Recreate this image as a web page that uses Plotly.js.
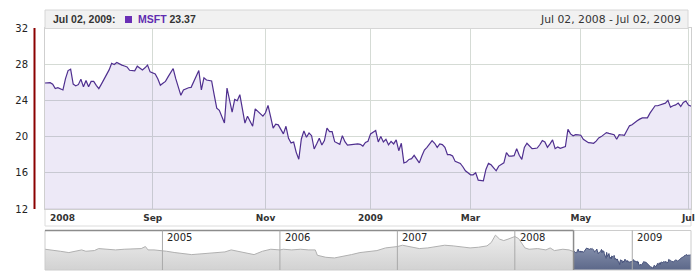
<!DOCTYPE html>
<html><head><meta charset="utf-8">
<script src="https://cdn.plot.ly/plotly-3.0.1.min.js"></script>
<style>html,body{margin:0;padding:0;background:#fff;}#chart{width:700px;height:280px;}</style>
</head><body><div id="chart"></div>
<script>
// MSFT daily close, one value per trading day, Jul 02 2008 (day 0) .. Jul 02 2009 (day 252)
const msftClose = [
25.92,25.95,25.96,25.78,25.3,25.4,25.26,25.15,26.4,27.3,
27.45,25.8,25.6,25.74,26.33,25.5,26.2,25.5,26.1,26.1,
25.67,25.3,25.8,26.3,26.8,27.37,28.1,27.96,28.18,28.0,
27.9,27.8,27.7,27.33,27.3,27.26,27.78,27.52,27.37,27.6,
27.9,27.15,27.0,26.93,26.4,25.67,25.89,26.1,26.6,27.0,
27.52,26.4,25.5,24.56,25.15,25.3,25.4,25.44,26.04,26.7,
27.3,25.15,26.5,26.25,26.2,26.15,24.6,23.15,22.9,22.2,
21.5,25.37,24.0,22.7,24.1,23.96,24.63,23.0,21.5,22.26,
21.7,21.14,23.07,22.78,22.5,22.26,22.63,23.44,22.2,20.93,
21.37,21.3,20.8,20.3,21.14,19.81,19.3,19.4,18.26,17.5,
19.74,20.63,19.93,20.4,20.1,18.63,19.2,19.81,19.07,19.56,
20.93,20.56,20.56,19.44,19.3,19.15,20.1,19.44,19.07,19.1,
19.15,19.18,19.19,19.15,18.95,19.35,19.48,20.3,20.5,20.67,
19.41,20.0,19.41,19.7,19.1,19.48,19.19,19.63,18.44,19.26,
17.1,17.19,17.48,17.56,17.93,17.56,17.1,17.85,18.52,18.81,
19.2,19.56,19.26,18.81,19.19,19.11,18.81,18.0,18.0,17.85,
17.26,17.15,17.04,16.67,16.22,16.0,15.78,15.78,16.0,15.19,
15.19,15.11,16.37,17.04,16.89,16.55,16.22,16.74,16.96,17.1,
18.22,17.85,17.85,17.9,18.67,17.93,17.48,18.81,19.26,19.0,
18.67,18.7,18.74,19.1,19.56,19.4,18.81,19.2,19.63,18.67,
18.85,18.7,18.8,18.89,20.81,20.3,20.1,20.22,20.2,20.15,
19.7,19.5,19.33,19.3,19.26,19.5,19.85,20.0,20.2,20.44,
20.35,20.3,20.2,19.7,20.22,20.18,20.15,20.67,21.19,21.3,
21.56,21.75,21.93,22.07,22.07,22.07,22.59,23.04,23.41,23.41,
23.48,23.63,23.7,24.0,23.26,23.41,23.5,23.7,23.33,23.78,
23.93,23.48,23.37
];
// first trading day of each month shown on the main axis (trading-day number)
const monthTickDays = [42, 86, 127, 166, 209, 251];
const monthTickLabels = ['Sep', 'Nov', '2009', 'Mar', 'May', 'Jul'];
const firstTickLabel = '2008';
const seriesName = 'MSFT';
const lastDateLabel = 'Jul 02, 2009';
const rangeLabel = 'Jul 02, 2008 - Jul 02, 2009';

// navigator history before the selected range (fractional year, close)
const historyYear = [2004.000,2004.058,2004.130,2004.203,2004.275,2004.312,2004.348,2004.420,2004.457,2004.529,2004.601,2004.674,2004.746,2004.819,2004.855,2004.877,2004.928,2005.000,
2005.035,2005.106,2005.177,2005.248,2005.319,2005.390,2005.461,2005.532,2005.585,2005.638,2005.709,2005.780,2005.851,2005.922,2006.000,
2006.029,2006.101,2006.174,2006.246,2006.301,2006.319,2006.391,2006.464,2006.536,2006.609,2006.681,2006.754,2006.826,2006.899,2007.000,
2007.043,2007.115,2007.187,2007.259,2007.331,2007.403,2007.475,2007.547,2007.619,2007.691,2007.763,2007.799,2007.835,2007.871,2007.906,2007.942,2008.000,
2008.032,2008.068,2008.086,2008.122,2008.194,2008.265,2008.301,2008.337,2008.409,2008.462,2008.5];
const historyClose = [27.4,26.97,26.1,25.24,26.1,26.97,26.1,26.53,27.83,27.4,26.97,27.4,27.83,27.83,29.13,26.97,26.97,26.53,
26.1,25.24,24.37,23.94,24.37,24.8,25.24,25.67,26.97,26.1,25.24,23.94,26.1,27.4,26.97,
27.4,26.97,27.4,26.97,26.97,23.5,22.2,21.78,22.64,23.94,25.24,26.1,26.53,28.26,29.13,
30.0,28.7,27.83,28.26,29.13,30.0,29.56,28.7,28.26,28.7,29.56,31.7,36.5,33.9,33.0,33.9,35.6,
34.3,30.4,28.26,27.4,27.83,26.97,28.26,26.53,27.4,26.97,25.92];
const navYears = [2005, 2006, 2007, 2008, 2009];
const selStartYear = 2008.5, selEndYear = 2009.5;

// pixel helpers for layout positions (plot area: x 45..691, y 28..270)
const L = 45, R = 691, T = 28, B = 270;
const px = v => (v - L) / (R - L);
const py = v => (B - v) / (B - T);

const days = msftClose.map((_, i) => i);
const selYears = days.map(i => selStartYear + i / (days.length - 1) * (selEndYear - selStartYear));

const traces = [
  {x: days, y: msftClose, type: 'scatter', mode: 'lines', xaxis: 'x', yaxis: 'y',
   line: {color: '#4f2f8f', width: 1.2}, fill: 'tozeroy', fillcolor: 'rgba(110,70,190,0.12)', hoverinfo: 'skip'},
  {x: historyYear, y: historyClose, type: 'scatter', mode: 'lines', xaxis: 'x2', yaxis: 'y2',
   line: {color: '#b0b0b0', width: 1}, fill: 'tozeroy',
   fillgradient: {type: 'vertical', start: 14, stop: 37, colorscale: [[0, '#d2d2d2'], [1, '#ededed']]}, hoverinfo: 'skip'},
  {x: selYears, y: msftClose, type: 'scatter', mode: 'lines', xaxis: 'x2', yaxis: 'y2',
   line: {color: '#45507a', width: 1}, fill: 'tozeroy',
   fillgradient: {type: 'vertical', start: 14, stop: 27, colorscale: [[0, '#5c6889'], [1, '#7f8aa7']]}, hoverinfo: 'skip'}
];

const shapes = [
  // header bar
  {type: 'rect', xref: 'paper', yref: 'paper', x0: 0, x1: px(688), y0: py(28.5), y1: py(10),
   fillcolor: '#f1f1f1', line: {color: '#d6d6d6', width: 1}, layer: 'above'},
  // legend colour square
  {type: 'rect', xref: 'paper', yref: 'paper', x0: px(125), x1: px(132), y0: py(23), y1: py(16),
   fillcolor: '#6a2fb5', line: {width: 0}, layer: 'above'},
  // x label band
  {type: 'rect', xref: 'paper', yref: 'paper', x0: 0, x1: 1, y0: py(226), y1: py(209),
   fillcolor: '#ffffff', line: {color: '#dcdcdc', width: 1}, layer: 'below'},
  // dark red y axis line
  {type: 'line', xref: 'paper', yref: 'paper', x0: px(34.5), x1: px(34.5), y0: py(209), y1: py(28),
   line: {color: '#8b0000', width: 2}},
  // navigator frame
  {type: 'rect', xref: 'paper', yref: 'paper', x0: 0, x1: 1, y0: 0, y1: py(230.5),
   line: {color: '#cccccc', width: 1}, layer: 'above'},
  {type: 'line', xref: 'x2', yref: 'paper', x0: 2004, x1: selStartYear, y0: py(230.5), y1: py(230.5),
   line: {color: '#8c8c8c', width: 1.5}, layer: 'above'},
  {type: 'line', xref: 'x2', yref: 'paper', x0: selStartYear, x1: selStartYear, y0: 0, y1: py(230.5),
   line: {color: '#8c8c8c', width: 1.5}, layer: 'above'}
];
navYears.forEach(yr => shapes.push({type: 'line', xref: 'x2', yref: 'paper', x0: yr, x1: yr, y0: 0, y1: py(230.5),
  line: {color: '#a9a9a9', width: 1}, layer: 'above'}));

const last = msftClose[msftClose.length - 1];
const hdrFont = {family: 'Liberation Sans', size: 10.5, color: '#333', weight: 'bold'};
const annotations = [
  {xref: 'x', yref: 'paper', x: 0, y: py(217.5), xanchor: 'left', yanchor: 'middle', xshift: 3, showarrow: false,
   text: firstTickLabel, font: {family: 'DejaVu Sans', size: 9, color: '#333', weight: 'bold'}},
  {xref: 'paper', yref: 'paper', x: px(51), y: py(19.5), xanchor: 'left', yanchor: 'middle', showarrow: false,
   text: lastDateLabel + ':', font: hdrFont},
  {xref: 'paper', yref: 'paper', x: px(136), y: py(19.5), xanchor: 'left', yanchor: 'middle', showarrow: false,
   text: '<span style="color:#5f2db0">' + seriesName + '</span> ' + last.toFixed(2), font: hdrFont},
  {xref: 'paper', yref: 'paper', x: px(683), y: py(19.5), xanchor: 'right', yanchor: 'middle', showarrow: false,
   text: rangeLabel, font: {family: 'DejaVu Sans', size: 10.8, color: '#333'}}
];
navYears.forEach(yr => annotations.push({xref: 'x2', yref: 'paper', x: yr, y: py(237.5), xanchor: 'left', yanchor: 'middle',
  xshift: 3, showarrow: false, text: String(yr), font: {family: 'DejaVu Sans', size: 10, color: '#222'}}));

const layout = {
  width: 700, height: 280, margin: {l: L, r: 700 - R, t: T, b: 280 - B},
  paper_bgcolor: '#ffffff', plot_bgcolor: '#ffffff', showlegend: false,
  font: {family: 'DejaVu Sans', color: '#333'},
  xaxis: {domain: [0, 1], anchor: 'y', range: [0, days.length - 1], tickvals: monthTickDays, ticktext: monthTickLabels,
    showgrid: true, gridcolor: '#d5dbd5', zeroline: false, showline: true, linecolor: '#cfcfcf', mirror: true,
    tickfont: {family: 'DejaVu Sans', size: 9, color: '#333', weight: 'bold'}, fixedrange: true},
  yaxis: {domain: [py(209), 1], anchor: 'x', range: [12, 32], tick0: 12, dtick: 4, showgrid: true, gridcolor: '#d5dbd5',
    zeroline: false, showline: true, linecolor: '#cfcfcf', mirror: true, ticks: 'outside', ticklen: 14,
    tickcolor: 'rgba(0,0,0,0)', tickfont: {family: 'DejaVu Sans', size: 10, color: '#222'}, fixedrange: true},
  xaxis2: {domain: [0, 1], anchor: 'y2', range: [2004, selEndYear], showgrid: false, showticklabels: false, zeroline: false, fixedrange: true},
  yaxis2: {domain: [0, py(230.5)], anchor: 'x2', range: [14, 39.5], showgrid: false, showticklabels: false, zeroline: false, fixedrange: true},
  shapes: shapes, annotations: annotations
};
Plotly.newPlot('chart', traces, layout, {displayModeBar: false, staticPlot: true});
</script></body></html>
